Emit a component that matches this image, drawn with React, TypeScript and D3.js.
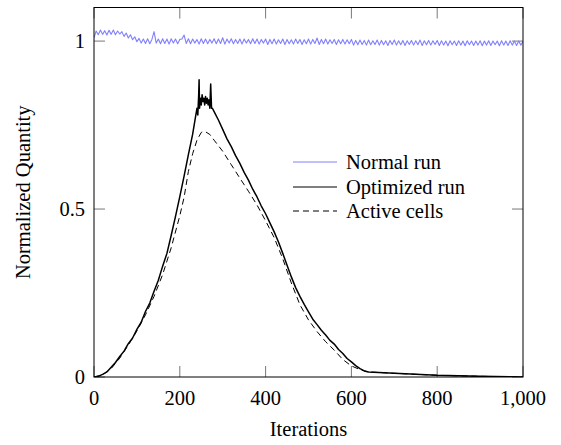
import React from "react";
import * as d3 from "d3";

const xTicks = [0, 200, 400, 600, 800, 1000];
const yTicks = [0, 0.5, 1];
const yTickLabels = ["0", "0.5", "1"];

// Normal run, sampled every 5 iterations (0..1000)
const normalRun = [
  1.010, 1.030, 1.019, 1.033, 1.020, 1.031, 1.018, 1.032, 1.020, 1.033, 1.019, 1.030, 1.021,
  1.028, 1.014, 1.024, 1.009, 1.019, 1.004, 1.013, 0.998, 1.008, 0.994,
  1.006, 0.993, 1.007, 0.992, 1.005, 1.028, 0.994, 1.006, 0.992, 1.007, 0.993, 1.006, 0.991, 1.007, 0.994, 1.006, 0.992, 1.005,
  1.006, 1.018, 0.993, 1.007, 0.992, 1.006, 0.994, 1.005, 0.991, 1.007,
  0.993, 1.006, 0.992, 1.005, 0.994, 1.007, 0.992, 1.006, 0.993, 1.010,
  0.991, 1.006, 0.994, 1.007, 0.992, 1.005, 0.993, 1.006, 0.991, 1.006,
  0.994, 1.005, 0.992, 1.007, 0.993, 1.006, 0.991, 1.005, 0.994, 1.006,
  0.990, 1.005, 0.992, 1.006, 0.991, 1.004, 0.993, 1.006, 0.990, 1.005,
  0.992, 1.004, 0.991, 1.006, 0.993, 1.005, 0.990, 1.004, 0.992, 1.006,
  0.991, 1.005, 0.993, 1.009, 0.990, 1.005, 0.992, 1.006, 0.991, 1.004,
  0.993, 1.005, 0.990, 1.004, 0.992, 1.005, 0.991, 1.004, 0.992, 1.005,
  0.988, 1.002, 0.989, 1.003, 0.990, 1.002, 0.988, 1.003, 0.989, 1.001,
  0.990, 1.003, 0.988, 1.002, 0.989, 1.001, 0.987, 1.002, 0.990, 1.003,
  0.988, 1.001, 0.989, 1.002, 0.987, 1.001, 0.990, 1.002, 0.988, 1.001,
  0.989, 1.003, 0.987, 1.001, 0.989, 1.002, 0.988, 1.001, 0.990, 1.002,
  0.987, 1.001, 0.988, 1.000, 0.986, 1.001, 0.989, 1.000, 0.987, 1.001,
  0.988, 1.000, 0.986, 1.001, 0.989, 1.000, 0.987, 1.000, 0.988, 1.001,
  0.986, 1.000, 0.988, 1.001, 0.987, 1.000, 0.989, 1.000, 0.986, 1.001,
  0.988, 1.000, 0.987, 1.001, 0.988, 1.000, 0.987, 1.000, 0.988, 0.999,
];

const optIter = [
  0, 10, 20, 30, 40, 50, 60, 70, 80, 90, 100, 110, 120, 130, 140, 150, 160, 170, 180, 190,
  200, 210, 220, 230, 235, 240, 242, 244, 245, 246, 248, 250, 252, 254, 256, 258, 260, 262,
  264, 266, 268, 270, 272, 274, 276, 280, 290, 300, 310, 320, 330, 340, 350, 360, 370, 380,
  390, 400, 410, 420, 430, 440, 450, 460, 470, 480, 490, 500, 510, 520, 530, 540, 550, 560,
  570, 580, 590, 600, 610, 620, 630, 640, 700, 800, 900, 1000,
];
const optVal = [
  0, 0.002, 0.008, 0.015, 0.029, 0.043, 0.061, 0.077, 0.099, 0.116, 0.142, 0.163, 0.195, 0.220, 0.255, 0.288, 0.330, 0.368, 0.422, 0.478,
  0.537, 0.598, 0.662, 0.723, 0.762, 0.800, 0.780, 0.840, 0.885, 0.800, 0.830, 0.810, 0.840, 0.820, 0.830, 0.810, 0.835, 0.815,
  0.830, 0.810, 0.825, 0.800, 0.872, 0.800, 0.800, 0.790, 0.765, 0.737, 0.709, 0.686, 0.659, 0.636, 0.609, 0.586, 0.559, 0.536,
  0.509, 0.486, 0.459, 0.432, 0.402, 0.368, 0.333, 0.298, 0.266, 0.240, 0.216, 0.194, 0.172, 0.156, 0.139, 0.125, 0.109, 0.098,
  0.082, 0.070, 0.055, 0.045, 0.034, 0.025, 0.018, 0.015, 0.011, 0.005, 0.002, 0.0,
];

const activeIter = [
  0, 20, 40, 60, 80, 100, 120, 140, 160, 180, 200, 210, 220, 230, 240, 250, 255, 260, 270, 280,
  300, 320, 340, 360, 380, 400, 420, 440, 460, 480, 500, 520, 540, 560, 580, 600, 620, 640,
  700, 800, 900, 1000,
];
const activeVal = [
  0, 0.006, 0.025, 0.056, 0.095, 0.137, 0.185, 0.240, 0.305, 0.385, 0.480, 0.535, 0.612, 0.665, 0.705, 0.728, 0.731, 0.730, 0.722, 0.705,
  0.672, 0.632, 0.592, 0.553, 0.512, 0.465, 0.415, 0.352, 0.280, 0.215, 0.170, 0.135, 0.105, 0.080, 0.052, 0.033, 0.022, 0.015,
  0.011, 0.005, 0.002, 0,
];

const seriesNames = ["Normal run", "Optimized run", "Active cells"];

const W = 561;
const H = 445;
const left = 94;
const right = 523;
const top = 7.5;
const bottom = 377;
const FONT = "'Liberation Serif', 'Times New Roman', serif";
const FS = 20.5;
const TICK = 11;

export default function App() {
  const x = d3.scaleLinear().domain([0, 1000]).range([left, right]);
  const y = d3.scaleLinear().domain([0, 1.1]).range([bottom, top]);
  const line = d3
    .line<[number, number]>()
    .x((d) => x(d[0]))
    .y((d) => y(d[1]));

  const normalPts: [number, number][] = normalRun.map((v, i) => [
    (i * 1000) / (normalRun.length - 1),
    v,
  ]);
  const optPts: [number, number][] = optIter.map((it, i) => [it, optVal[i]]);
  const actPts: [number, number][] = activeIter.map((it, i) => [it, activeVal[i]]);

  const legendY = [162, 187, 211];
  const legendStyles = [
    { stroke: "#8080ff", dash: undefined as string | undefined, w: 1 },
    { stroke: "#000", dash: undefined as string | undefined, w: 1.1 },
    { stroke: "#000", dash: "6 4", w: 1 },
  ];

  return (
    <svg
      width={W}
      height={H}
      style={{ position: "absolute", left: 0, top: 0, background: "#fff" }}
      fontFamily={FONT}
    >
      <defs>
        <clipPath id="plotclip">
          <rect x={left} y={top} width={right - left} height={bottom - top} />
        </clipPath>
      </defs>
      {xTicks.map((t) => (
        <g key={"xt" + t}>
          <line x1={x(t)} x2={x(t)} y1={bottom} y2={bottom - TICK} stroke="#555" strokeWidth={0.8} />
          <line x1={x(t)} x2={x(t)} y1={top} y2={top + TICK} stroke="#555" strokeWidth={0.8} />
          <text x={x(t)} y={405} textAnchor="middle" fontSize={FS} fill="#000">
            {d3.format(",")(t)}
          </text>
        </g>
      ))}
      {yTicks.map((t, i) => (
        <g key={"yt" + t}>
          <line x1={left} x2={left + TICK} y1={y(t)} y2={y(t)} stroke="#555" strokeWidth={0.8} />
          <line x1={right} x2={right - TICK} y1={y(t)} y2={y(t)} stroke="#555" strokeWidth={0.8} />
          <text x={85} y={y(t)} dy="0.34em" textAnchor="end" fontSize={FS} fill="#000">
            {yTickLabels[i]}
          </text>
        </g>
      ))}
      <g clipPath="url(#plotclip)" fill="none">
        <path d={line(normalPts) || ""} stroke="#8080ff" strokeWidth={1.1} strokeLinejoin="round" />
        <path d={line(actPts) || ""} stroke="#000" strokeWidth={1} strokeDasharray="6 4" />
        <path d={line(optPts) || ""} stroke="#000" strokeWidth={1.5} strokeLinejoin="round" />
      </g>
      <rect
        x={left}
        y={top}
        width={right - left}
        height={bottom - top}
        fill="none"
        stroke="#000"
        strokeWidth={1}
      />
      {seriesNames.map((name, i) => (
        <g key={name}>
          <line
            x1={293}
            x2={337}
            y1={legendY[i]}
            y2={legendY[i]}
            stroke={legendStyles[i].stroke}
            strokeWidth={legendStyles[i].w}
            strokeDasharray={legendStyles[i].dash}
          />
          <text x={346} y={legendY[i]} dy="0.34em" fontSize={FS} fill="#000">
            {name}
          </text>
        </g>
      ))}
      <text x={(left + right) / 2} y={436} textAnchor="middle" fontSize={FS} fill="#000">
        Iterations
      </text>
      <text
        transform={`translate(30, ${(top + bottom) / 2}) rotate(-90)`}
        textAnchor="middle"
        fontSize={FS}
        fill="#000"
      >
        Normalized Quantity
      </text>
    </svg>
  );
}
